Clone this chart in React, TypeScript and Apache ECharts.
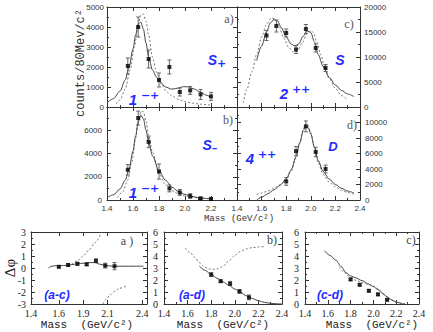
import React, { useEffect, useRef } from "react";
import * as echarts from "echarts";

// ---------- data: panel a (S+, 1-+) ----------
const massA = [1.56, 1.64, 1.72, 1.8, 1.88, 1.96, 2.04, 2.12, 2.2];
const countsA = [2050, 4000, 2400, 1350, 2000, 750, 830, 630, 530];
const errA = [400, 500, 450, 350, 350, 200, 200, 250, 200];
const fitAX = [1.4, 1.45, 1.5, 1.54, 1.57, 1.6, 1.62, 1.64, 1.66, 1.68, 1.7, 1.72, 1.75, 1.78, 1.81, 1.85, 1.9, 1.95, 1.99, 2.03, 2.07, 2.12, 2.16, 2.2];
const fitAY = [200, 420, 800, 1350, 2000, 2900, 3600, 4150, 4250, 3900, 3200, 2500, 1850, 1500, 1250, 1000, 890, 950, 1020, 1000, 900, 740, 600, 480];
const altAX = [1.47, 1.5, 1.54, 1.58, 1.61, 1.64, 1.66, 1.68, 1.7, 1.72, 1.75, 1.78, 1.82, 1.86, 1.9, 1.95, 2.0, 2.06, 2.12, 2.2];
const altAY = [150, 350, 900, 1900, 3000, 4100, 4600, 4650, 4300, 3600, 2500, 1750, 1100, 750, 550, 380, 270, 190, 140, 90];

// ---------- panel b (S-, 1-+) ----------
const massB = [1.56, 1.64, 1.72, 1.8, 1.88, 1.96, 2.04, 2.12, 2.2];
const countsB = [2600, 7050, 5000, 2450, 1000, 650, 340, 140, 90];
const errB = [450, 600, 500, 650, 300, 250, 200, 100, 80];
const fitBX = [1.4, 1.45, 1.5, 1.54, 1.57, 1.6, 1.62, 1.64, 1.66, 1.68, 1.7, 1.72, 1.75, 1.8, 1.85, 1.9, 1.95, 2.0, 2.05, 2.1, 2.15, 2.2];
const fitBY = [200, 450, 950, 1700, 2700, 4200, 5500, 6700, 7300, 7000, 6000, 5000, 3800, 2500, 1700, 1100, 720, 480, 320, 210, 140, 100];
const altBX = [1.48, 1.52, 1.56, 1.59, 1.62, 1.64, 1.66, 1.68, 1.7, 1.72, 1.75, 1.8, 1.85, 1.9, 1.95, 2.0, 2.1, 2.2];
const altBY = [200, 700, 1700, 3200, 5300, 6800, 7600, 7600, 6800, 5600, 4100, 2300, 1300, 800, 520, 350, 170, 90];

// ---------- panel c (S, 2++) ----------
const massC = [1.64, 1.72, 1.8, 1.88, 1.96, 2.04, 2.12];
const countsC = [14300, 16200, 14800, 11500, 15600, 11800, 7800];
const errC = [1000, 1200, 800, 800, 900, 800, 700];
const fitCX = [1.56, 1.6, 1.64, 1.67, 1.7, 1.73, 1.76, 1.8, 1.84, 1.87, 1.9, 1.94, 1.97, 2.0, 2.03, 2.06, 2.1, 2.15, 2.2, 2.25, 2.3, 2.35];
const fitCY = [9300, 12200, 15000, 16800, 17500, 17200, 15900, 14000, 12600, 12200, 12600, 14200, 15200, 14900, 13000, 10500, 8100, 5900, 4400, 3300, 2600, 2100];
const altCX = [1.45, 1.48, 1.52, 1.56, 1.6, 1.64, 1.68, 1.71, 1.74, 1.78, 1.82, 1.86, 1.89, 1.93, 1.97, 2.0, 2.02, 2.05, 2.08, 2.11, 2.15, 2.2, 2.25, 2.29];
const altCY = [800, 3500, 7000, 10500, 14000, 16600, 17800, 17600, 16200, 13800, 11900, 11000, 11200, 12800, 14700, 15300, 14900, 13000, 10500, 8200, 5800, 3700, 2300, 1600];

// ---------- panel d (D, 4++) ----------
const massD = [1.8, 1.88, 1.96, 2.04, 2.12];
const countsD = [2400, 6300, 9500, 6200, 4000];
const errD = [500, 600, 700, 600, 500];
const fitDX = [1.56, 1.6, 1.65, 1.7, 1.75, 1.8, 1.84, 1.88, 1.91, 1.94, 1.96, 1.98, 2.0, 2.03, 2.06, 2.1, 2.15, 2.2, 2.25, 2.3, 2.35];
const fitDY = [0, 350, 800, 1300, 1900, 2700, 3900, 5600, 7400, 9000, 9500, 9300, 8500, 6800, 5100, 3700, 2700, 2000, 1500, 1150, 900];
const altDX = [1.56, 1.6, 1.65, 1.7, 1.75, 1.8, 1.84, 1.88, 1.91, 1.94, 1.96, 1.98, 2.0, 2.03, 2.06, 2.1, 2.15, 2.2, 2.25, 2.3, 2.35];
const altDY = [700, 900, 1150, 1500, 1950, 2600, 3700, 5400, 7300, 9200, 9800, 9600, 8700, 6700, 4800, 3300, 2300, 1700, 1250, 950, 750];

// ---------- phase differences ----------
const massAC = [1.64, 1.72, 1.8, 1.88, 1.96, 2.04, 2.12];
const phaseAC = [0.1, 0.25, 0.35, 0.3, 0.6, 0.2, 0.15];
const errAC = [0.08, 0.1, 0.12, 0.1, 0.15, 0.2, 0.3];
const fitACX = [1.55, 1.58, 1.62, 1.66, 1.7, 1.75, 1.8, 1.85, 1.9, 1.95, 2.0, 2.05, 2.1, 2.2, 2.3, 2.37];
const fitACY = [0.0, 0.15, 0.2, 0.2, 0.22, 0.28, 0.35, 0.4, 0.45, 0.45, 0.3, 0.2, 0.15, 0.15, 0.15, 0.15];
const altAC1X = [1.75, 1.8, 1.85, 1.9, 1.95, 2.01];
const altAC1Y = [0.3, 0.6, 1.0, 1.5, 2.1, 3.0];
const altAC2X = [2.02, 2.05, 2.08, 2.12, 2.16, 2.22];
const altAC2Y = [-3.0, -2.6, -2.25, -1.95, -1.7, -1.5];
const acTickVals = [1.4, 1.64, 1.85, 2.06, 2.36];
const acTickLabels = ["1.4", "1.6", "1.9", "2.1", "2.4"];

const massAD = [1.8, 1.88, 1.96, 2.04, 2.12];
const phaseAD = [2.45, 1.9, 1.7, 1.05, 0.55];
const errAD = [0.15, 0.1, 0.15, 0.15, 0.2];
const fitADX = [1.7, 1.75, 1.8, 1.85, 1.9, 1.95, 2.0, 2.05, 2.1, 2.15, 2.2, 2.25, 2.3, 2.35, 2.4];
const fitADY = [3.15, 2.8, 2.45, 2.15, 1.85, 1.55, 1.25, 0.95, 0.68, 0.45, 0.27, 0.14, 0.06, 0.02, 0.0];
const altADX = [1.58, 1.62, 1.66, 1.7, 1.74, 1.78, 1.82, 1.86, 1.9, 1.95, 2.0, 2.05, 2.1, 2.15, 2.2, 2.26];
const altADY = [4.65, 4.3, 3.9, 3.45, 3.1, 2.92, 2.88, 2.95, 3.15, 3.6, 4.05, 4.4, 4.6, 4.7, 4.75, 4.8];

const massCD = [1.8, 1.88, 1.96, 2.04, 2.12];
const phaseCD = [2.05, 1.6, 1.1, 0.8, 0.35];
const errCD = [0.1, 0.1, 0.1, 0.1, 0.1];
const fitCDX = [1.57, 1.62, 1.67, 1.72, 1.76, 1.8, 1.84, 1.9, 1.96, 2.0, 2.04, 2.08, 2.12, 2.16, 2.2, 2.26];
const fitCDY = [4.45, 4.05, 3.65, 3.1, 2.6, 2.35, 2.2, 1.95, 1.65, 1.45, 1.2, 0.9, 0.6, 0.35, 0.15, 0.0];
const altCDX = [1.7, 1.75, 1.8, 1.85, 1.9, 1.95, 2.0, 2.05, 2.1, 2.15, 2.2, 2.25, 2.3];
const altCDY = [3.1, 2.6, 2.2, 1.95, 1.8, 1.65, 1.5, 1.2, 0.7, 0.35, 0.15, 0.05, 0.0];

const W = 433;
const H = 332;
const AX = "#333";
const BLUE = "#1f2bff";

function buildOption() {
  const grids: any[] = [];
  const xAxes: any[] = [];
  const yAxes: any[] = [];
  const series: any[] = [];

  const base = (gi: number, extra: any) => ({
    gridIndex: gi,
    type: "value",
    axisLine: { show: true, onZero: false, lineStyle: { color: AX, width: 1 } },
    splitLine: { show: false },
    axisTick: { show: true, inside: true, length: 4, lineStyle: { color: AX } },
    minorTick: { show: true, splitNumber: 2, length: 2, lineStyle: { color: AX } },
    ...extra,
  });

  function addPanel(p: any) {
    const gi = grids.length;
    grids.push({ left: p.left, top: p.top, width: p.width, height: p.height });
    const xi = xAxes.length;
    const xCommon = { min: p.xmin, max: p.xmax, interval: p.xint, ...(p.xExtra || {}) };
    xAxes.push(base(gi, { position: "bottom", ...xCommon, axisLabel: p.xLabel }));
    xAxes.push(base(gi, { position: "top", ...xCommon, axisLabel: { show: false } }));
    const yi = yAxes.length;
    const yCommon = { min: p.ymin, max: p.ymax, interval: p.yint };
    yAxes.push(base(gi, { position: p.ySide, ...yCommon, axisLabel: p.yLabel }));
    yAxes.push(base(gi, { position: p.ySide === "left" ? "right" : "left", ...yCommon, axisLabel: { show: false } }));
    return { xi, yi };
  }

  const topLbl = { fontSize: 8, fontFamily: "Liberation Sans", color: "#333", margin: 3 };
  const botLbl = { fontSize: 10, fontFamily: "Liberation Serif", color: "#222", margin: 4 };
  const fx = (v: number) => v.toFixed(1);
  const fy = (v: number) => String(v);

  function curve(ax: any, xs: number[], ys: number[], dashed: boolean) {
    series.push({
      type: "line",
      xAxisIndex: ax.xi,
      yAxisIndex: ax.yi,
      data: xs.map((x, i) => [x, ys[i]]),
      showSymbol: false,
      smooth: 0.3,
      smoothMonotone: "x",
      clip: true,
      silent: true,
      lineStyle: dashed
        ? { color: "#777", width: 1, type: [2, 2] }
        : { color: "#444", width: 1 },
      z: 2,
    });
  }
  function points(ax: any, xs: number[], ys: number[], es: number[], size: number) {
    series.push({
      type: "custom",
      xAxisIndex: ax.xi,
      yAxisIndex: ax.yi,
      data: xs.map((x, i) => [x, ys[i] - es[i], ys[i] + es[i]]),
      encode: { x: 0, y: [1, 2] },
      silent: true,
      z: 3,
      renderItem: (_p: any, api: any) => {
        const lo = api.coord([api.value(0), api.value(1)]);
        const hi = api.coord([api.value(0), api.value(2)]);
        const w = 2;
        const st = { stroke: "#666", lineWidth: 1 };
        return {
          type: "group",
          children: [
            { type: "line", shape: { x1: lo[0], y1: lo[1], x2: hi[0], y2: hi[1] }, style: st },
            { type: "line", shape: { x1: lo[0] - w, y1: lo[1], x2: lo[0] + w, y2: lo[1] }, style: st },
            { type: "line", shape: { x1: hi[0] - w, y1: hi[1], x2: hi[0] + w, y2: hi[1] }, style: st },
          ],
        };
      },
    });
    series.push({
      type: "scatter",
      xAxisIndex: ax.xi,
      yAxisIndex: ax.yi,
      data: xs.map((x, i) => [x, ys[i]]),
      symbol: "rect",
      symbolSize: size,
      itemStyle: { color: "#000" },
      silent: true,
      z: 4,
    });
  }

  // top panels
  const pA = addPanel({
    left: 107, top: 7, width: 130, height: 100,
    xmin: 1.4, xmax: 2.4, xint: 0.2, xLabel: { show: false },
    ymin: 0, ymax: 5000, yint: 1000, ySide: "left",
    yLabel: { ...topLbl, formatter: fy },
  });
  const pC = addPanel({
    left: 237, top: 7, width: 123, height: 100,
    xmin: 1.4, xmax: 2.4, xint: 0.2, xLabel: { show: false },
    ymin: 0, ymax: 20000, yint: 5000, ySide: "right",
    yLabel: { ...topLbl, formatter: fy, margin: 4 },
  });
  const pB = addPanel({
    left: 107, top: 107, width: 130, height: 93,
    xmin: 1.4, xmax: 2.4, xint: 0.2,
    xLabel: { ...topLbl, formatter: fx, showMaxLabel: false, margin: 4 },
    ymin: 0, ymax: 8000, yint: 2000, ySide: "left",
    yLabel: { ...topLbl, formatter: fy, showMaxLabel: false, margin: 5 },
  });
  const pD = addPanel({
    left: 237, top: 107, width: 123, height: 93,
    xmin: 1.4, xmax: 2.4, xint: 0.2,
    xLabel: { ...topLbl, formatter: fx, margin: 4 },
    ymin: 0, ymax: 12000, yint: 2000, ySide: "right",
    yLabel: { ...topLbl, formatter: fy, showMaxLabel: false, margin: 5 },
  });

  // bottom panels
  const pAC = addPanel({
    left: 31, top: 232, width: 116, height: 72,
    xmin: 1.4, xmax: 2.4,
    xExtra: { minorTick: { show: false }, axisTick: { show: true, inside: true, length: 4, customValues: acTickVals, lineStyle: { color: AX } } },
    xLabel: {
      ...botLbl,
      customValues: acTickVals,
      formatter: (v: number) => {
        const i = acTickVals.findIndex((t) => Math.abs(t - v) < 1e-6);
        return i >= 0 ? acTickLabels[i] : "";
      },
    },
    ymin: -3, ymax: 3, yint: 1, ySide: "left",
    yLabel: { ...botLbl, formatter: fy, margin: 5 },
  });
  const pAD = addPanel({
    left: 164, top: 232, width: 118, height: 72,
    xmin: 1.4, xmax: 2.4, xint: 0.2,
    xLabel: { ...botLbl, formatter: fx },
    ymin: 0, ymax: 6, yint: 1, ySide: "left",
    yLabel: { ...botLbl, formatter: fy, margin: 6 },
  });
  const pCD = addPanel({
    left: 305, top: 232, width: 114, height: 72,
    xmin: 1.4, xmax: 2.4, xint: 0.2,
    xLabel: { ...botLbl, formatter: fx },
    ymin: 0, ymax: 6, yint: 1, ySide: "left",
    yLabel: { ...botLbl, formatter: fy, margin: 6 },
  });

  curve(pA, altAX, altAY, true);
  curve(pA, fitAX, fitAY, false);
  points(pA, massA, countsA, errA, 4);

  curve(pC, altCX, altCY, true);
  curve(pC, fitCX, fitCY, false);
  points(pC, massC, countsC, errC, 4);

  curve(pB, altBX, altBY, true);
  curve(pB, fitBX, fitBY, false);
  points(pB, massB, countsB, errB, 4);

  curve(pD, altDX, altDY, true);
  curve(pD, fitDX, fitDY, false);
  points(pD, massD, countsD, errD, 4);

  curve(pAC, altAC1X, altAC1Y, true);
  curve(pAC, altAC2X, altAC2Y, true);
  curve(pAC, fitACX, fitACY, false);
  points(pAC, massAC, phaseAC, errAC, 4);

  curve(pAD, altADX, altADY, true);
  curve(pAD, fitADX, fitADY, false);
  points(pAD, massAD, phaseAD, errAD, 4);

  curve(pCD, altCDX, altCDY, true);
  curve(pCD, fitCDX, fitCDY, false);
  points(pCD, massCD, phaseCD, errCD, 4);

  // texts
  const plain = (x: number, y: number, text: string, font: string, fill = "#444", rotation = 0) => ({
    type: "text",
    x, y, rotation,
    silent: true,
    z: 10,
    style: { text, font, fill, textAlign: "center", textVerticalAlign: "middle" },
  });
  const richLbl = (x: number, y: number, main: string, extra: string, mode: "sup" | "sub", size: number) => {
    const small = Math.round(size * 0.75);
    return {
      type: "text",
      x, y,
      silent: true,
      z: 10,
      style: {
        text: extra ? `{a|${main}}{b|${extra}}` : `{a|${main}}`,
        textAlign: "center",
        textVerticalAlign: "middle",
        rich: {
          a: { fontSize: size, fontStyle: "italic", fontWeight: "bold", fontFamily: "Liberation Sans", fill: BLUE, lineHeight: size + 4, verticalAlign: "middle" },
          b: { fontSize: small, fontStyle: "italic", fontWeight: "bold", fontFamily: "DejaVu Sans", fill: BLUE, lineHeight: small + 1, verticalAlign: mode === "sup" ? "top" : "bottom" },
        },
      },
    };
  };

  const serif12 = '12px "Liberation Serif"';
  const graphic: any[] = [
    plain(229, 19, "a)", serif12, "#555"),
    plain(349, 24, "c)", serif12, "#555"),
    plain(228, 120, "b)", serif12, "#555"),
    plain(352, 125, "d)", serif12, "#555"),
    richLbl(217, 60, "S", "+", "sub", 14),
    richLbl(144, 99, "1", " \u2212+", "sup", 15),
    richLbl(340, 60, "S", "", "sub", 14),
    richLbl(295, 93, "2", " ++", "sup", 15),
    richLbl(210, 145, "S", "\u2013", "sub", 14),
    richLbl(144, 192, "1", " \u2212+", "sup", 15),
    richLbl(261, 158, "4", " ++", "sup", 15),
    richLbl(333, 146, "D", "", "sub", 13),
    richLbl(57, 295, "(a-c)", "", "sub", 12),
    richLbl(192, 295, "(a-d)", "", "sub", 12),
    richLbl(330, 295, "(c-d)", "", "sub", 12),
    plain(127, 241, "a )", serif12, "#444"),
    plain(272, 240, "b)", serif12, "#444"),
    plain(411, 240, "c)", serif12, "#444"),
    plain(239, 219, "Mass (GeV/c\u00b2)", '9px "Liberation Mono"', "#333"),
    plain(87, 325, "Mass  (GeV/c\u00b2)", '11px "Liberation Mono"', "#222"),
    plain(223, 325, "Mass  (GeV/c\u00b2)", '11px "Liberation Mono"', "#222"),
    plain(372, 325, "Mass  (GeV/c\u00b2)", '11px "Liberation Mono"', "#222"),
    plain(81, 63, "counts/80Mev/c\u00b2", '12px "Liberation Mono"', "#333", Math.PI / 2),
    plain(10, 268, "\u0394\u03c6", '15px "Liberation Serif"', "#222", Math.PI / 2),
  ];

  return {
    animation: false,
    backgroundColor: "#fff",
    grid: grids,
    xAxis: xAxes,
    yAxis: yAxes,
    series,
    graphic,
  };
}

export default function App() {
  const ref = useRef<HTMLDivElement>(null);
  useEffect(() => {
    const chart = echarts.init(ref.current!, null, { renderer: "svg" });
    chart.setOption(buildOption() as any);
    return () => chart.dispose();
  }, []);
  return (
    <div
      ref={ref}
      style={{ position: "fixed", left: 0, top: 0, width: W, height: H, background: "#fff" }}
    />
  );
}
